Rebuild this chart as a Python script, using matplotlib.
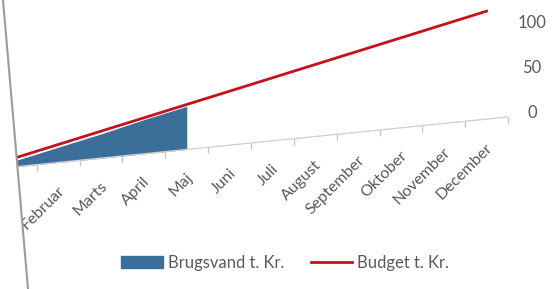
import numpy as np
import matplotlib
matplotlib.use('Agg')
import matplotlib.pyplot as plt
from matplotlib.transforms import Affine2D, ScaledTranslation
from matplotlib.lines import Line2D
from matplotlib.patches import Polygon, Patch

# data (t. Kr.)
months = ['Januar', 'Februar', 'Marts', 'April', 'Maj', 'Juni', 'Juli',
          'August', 'September', 'Oktober', 'November', 'December']
brugsvand = [7, 17, 27, 38, 48]
budget = [10, 20, 30, 40, 50, 60, 70, 80, 90, 100, 110, 120]
y_ticks = [0, 50, 100]

blue = '#3b6e98'
red = '#c3121c'
txt = '#5a5a5a'

plt.rcParams['font.family'] = ['Lato', 'DejaVu Sans']

W, H = 552, 289
fig = plt.figure(figsize=(W / 100, H / 100), dpi=100)
ax = fig.add_axes([-6 / W, 120 / H, 514 / W, 135 / H])
ax.set_xlim(-0.5, 11.5)
ax.set_ylim(0, 150)
ax.axis('off')

# the screenshot is taken at an angle -> shear everything upwards to the right
k = 0.1012 * 514 / 135
shear = ax.transData + ax.transAxes.inverted() + Affine2D.from_values(1, k, 0, 1, 0, 0) + ax.transAxes

x = np.arange(len(months))
area = ax.fill_between(x[:len(brugsvand)], 0, brugsvand, color=blue, lw=0)
area.set_transform(shear)
area.set_clip_on(False)
ax.plot(x, budget, color=red, lw=2, transform=shear, clip_on=False, zorder=3)

# category axis
ax.plot([-0.5, 11.5], [0, 0], color='#d2d2d2', lw=1, transform=shear, clip_on=False)
ax.plot(np.arange(-0.5, 12), np.zeros(13), ls='none', marker=3, ms=4, mew=1,
        color='#c4c4c4', transform=shear, clip_on=False)

# Januar lies outside the cropped screenshot, so its label is not drawn
off = ScaledTranslation(4 / 100, -26 / 100, fig.dpi_scale_trans)
for i, m in enumerate(months):
    if i == 0:
        continue
    ax.text(i, 0, m, transform=shear + off, rotation=45, rotation_mode='anchor',
            ha='right', va='center', fontsize=11.5, color=txt)

off2 = ScaledTranslation(24 / 100, 4 / 100, fig.dpi_scale_trans)
for v in y_ticks:
    ax.text(11.5, v, str(v), transform=shear + off2, ha='center', va='center',
            fontsize=12, color=txt)

handles = [Patch(color=blue, label='Brugsvand t. Kr.'),
           Line2D([], [], color=red, lw=2, label='Budget t. Kr.')]
fig.legend(handles=handles, loc='center', bbox_to_anchor=(285 / W, 1 - 263 / H),
           ncol=2, frameon=False, fontsize=12, handlelength=2.5,
           columnspacing=1.6, handletextpad=0.3, labelcolor=txt)

# page edge of the screenshot
fig.add_artist(Polygon([[0, 1], [3 / W, 1], [28 / W, 0], [0, 0]], closed=True,
                       transform=fig.transFigure, fc='white', ec='none', zorder=10))
fig.add_artist(Line2D([3 / W, 28 / W], [1, 0], transform=fig.transFigure,
                      color='#9c9c9c', lw=1.5, zorder=11))

fig.savefig('out.png', dpi=100)
